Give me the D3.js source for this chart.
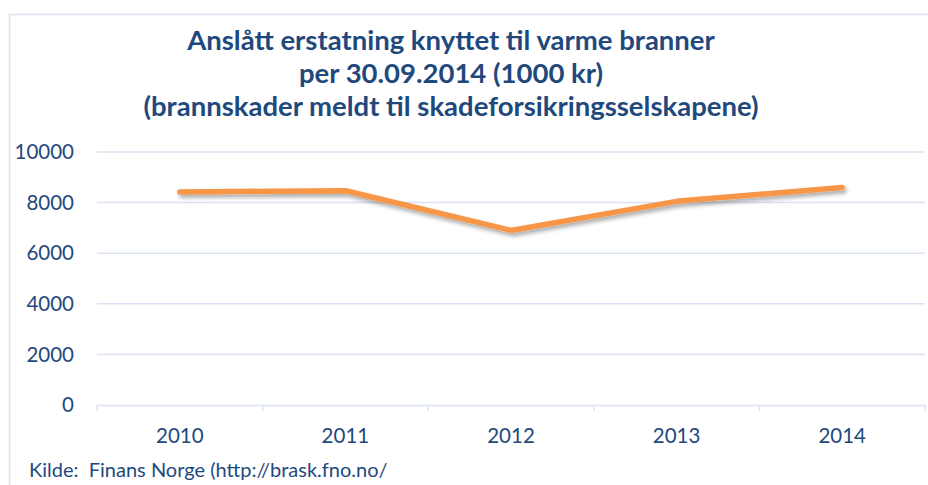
<!DOCTYPE html>
<html>
<head>
<meta charset="utf-8">
<script src="https://cdn.jsdelivr.net/npm/d3@7"></script>
<style>
  body { margin: 0; background: #fff; }
  svg { display: block; font-family: Lato, "Open Sans", sans-serif; }
</style>
</head>
<body>
<div id="viz"></div>
<script>
const years = ['2010', '2011', '2012', '2013', '2014'];
const values = [8420, 8470, 6900, 8050, 8600];
const y_ticks = [0, 2000, 4000, 6000, 8000, 10000];
const title_lines = [
  'Anslått erstatning knyttet til varme branner',
  'per 30.09.2014 (1000 kr)',
  '(brannskader meldt til skadeforsikringsselskapene)'
];
const source_text = 'Kilde:  Finans Norge (http://brask.fno.no/';

const LAYOUT = {
  width: 928,
  height: 485,
  margins: { left: 97, right: 3, top: 152, bottom: 80 }
};
const TEXT_COLOR = '#1F497D';
const GRID_COLOR = '#D9E3F3';
const LINE_COLOR = '#F79646';

const svg = d3.select('#viz').append('svg')
  .attr('width', LAYOUT.width)
  .attr('height', LAYOUT.height);

const defs = svg.append('defs');
const shadow = defs.append('filter').attr('id', 'shadow')
  .attr('x', '-10%').attr('y', '-50%').attr('width', '120%').attr('height', '200%');
shadow.append('feDropShadow')
  .attr('dx', 2).attr('dy', 3).attr('stdDeviation', 2)
  .attr('flood-color', '#000').attr('flood-opacity', 0.35);

// chart frame
svg.append('rect')
  .attr('x', 9.5).attr('y', 14.5)
  .attr('width', 940).attr('height', 500)
  .attr('fill', 'none')
  .attr('stroke', GRID_COLOR)
  .attr('stroke-width', 1.5);

const x0 = LAYOUT.margins.left;
const x1 = LAYOUT.width - LAYOUT.margins.right;
const y_bottom = LAYOUT.height - LAYOUT.margins.bottom;

const x = d3.scaleBand().domain(years).range([x0, x1]);
const y = d3.scaleLinear().domain([0, 10000]).range([y_bottom, LAYOUT.margins.top]);

// gridlines
svg.append('g')
  .selectAll('line')
  .data(y_ticks.filter(d => d > 0))
  .join('line')
  .attr('x1', x0).attr('x2', x1)
  .attr('y1', d => y(d)).attr('y2', d => y(d))
  .attr('stroke', GRID_COLOR)
  .attr('stroke-width', 1.5);

// y axis labels
svg.append('g')
  .selectAll('text')
  .data(y_ticks)
  .join('text')
  .attr('x', 74)
  .attr('y', d => y(d))
  .attr('dy', '0.35em')
  .attr('text-anchor', 'end')
  .attr('fill', TEXT_COLOR)
  .attr('font-size', 20.5)
  .text(d => d);

// x axis
const x_axis = svg.append('g')
  .attr('transform', `translate(0,${y_bottom})`)
  .call(d3.axisBottom(x).tickSize(0).tickPadding(23));
x_axis.select('.domain').attr('stroke', GRID_COLOR).attr('stroke-width', 1.5);
x_axis.selectAll('text')
  .attr('fill', TEXT_COLOR)
  .attr('font-size', 20.5)
  .attr('font-family', 'Lato, "Open Sans", sans-serif');

// category boundary ticks
const boundaries = years.map(d => x(d)).concat([x1]);
svg.append('g')
  .selectAll('line')
  .data(boundaries)
  .join('line')
  .attr('x1', d => d).attr('x2', d => d)
  .attr('y1', y_bottom).attr('y2', y_bottom + 6)
  .attr('stroke', GRID_COLOR)
  .attr('stroke-width', 1.5);

// series line
const line = d3.line()
  .x((d, i) => x(years[i]) + x.bandwidth() / 2)
  .y(d => y(d));

svg.append('path')
  .datum(values)
  .attr('d', line)
  .attr('fill', 'none')
  .attr('stroke', LINE_COLOR)
  .attr('stroke-width', 5.5)
  .attr('stroke-linecap', 'round')
  .attr('stroke-linejoin', 'round')
  .attr('filter', 'url(#shadow)');

// title
svg.append('g')
  .selectAll('text')
  .data(title_lines)
  .join('text')
  .attr('x', 451)
  .attr('y', (d, i) => 50 + i * 33)
  .attr('text-anchor', 'middle')
  .attr('fill', TEXT_COLOR)
  .attr('font-size', 27.5)
  .attr('font-weight', 'bold')
  .text(d => d);

// source
svg.append('text')
  .attr('x', 29)
  .attr('y', 477)
  .attr('fill', TEXT_COLOR)
  .attr('font-size', 20)
  .style('white-space', 'pre')
  .text(source_text);
</script>
</body>
</html>
